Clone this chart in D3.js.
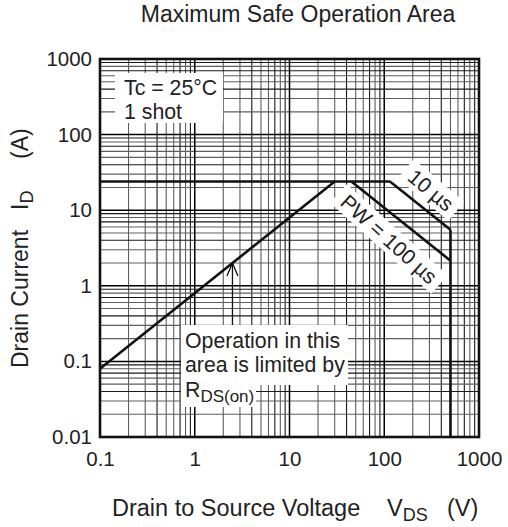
<!DOCTYPE html>
<html><head><meta charset="utf-8">
<script src="https://cdn.jsdelivr.net/npm/d3@7"></script>
<style>body{margin:0;background:#fff} svg{display:block;font-family:"Liberation Sans",Arial,Helvetica,sans-serif}</style>
</head><body><svg id="c" width="508" height="527"></svg>
<script>
const xTickValues=[0.1,1,10,100,1000];
const xTickLabels=["0.1","1","10","100","1000"];
const yTickValues=[0.01,0.1,1,10,100,1000];
const yTickLabels=["0.01","0.1","1","10","100","1000"];
const rdsV=[0.1,30], rdsI=[0.08,24];
const limitV=[0.1,115], limitI=[24,24];
const pw100V=[45,500], pw100I=[24,2.15];
const pw10V=[115,500], pw10I=[24,5.5];
const vdssV=[500,500], vdssI=[5.5,0.01];
const arrowV=2.5;

const svg=d3.select("#c");
const L=100,R=479,T=59,B=437;
const x=d3.scaleLog().domain([0.1,1000]).range([L,R]);
const y=d3.scaleLog().domain([0.01,1000]).range([B,T]);

// grid
const minorX=[],minorY=[];
for(let d=0.1;d<1000;d*=10){for(let k=2;k<=9;k++)minorX.push(+(k*d).toPrecision(3));}
for(let d=0.01;d<1000;d*=10){for(let k=2;k<=9;k++)minorY.push(+(k*d).toPrecision(3));}
const g=svg.append("g");
const shade=k=>([4,7,9].includes(Math.round(k))?"#1a1a1a":"#5e5e5e");
const mult=v=>v/Math.pow(10,Math.floor(Math.log10(v)+1e-9));
g.selectAll(".vx").data(minorX).join("line").attr("x1",d=>x(d)).attr("x2",d=>x(d)).attr("y1",T).attr("y2",B)
 .attr("stroke",d=>shade(mult(d))).attr("stroke-width",1.1);
g.selectAll(".hy").data(minorY).join("line").attr("y1",d=>y(d)).attr("y2",d=>y(d)).attr("x1",L).attr("x2",R)
 .attr("stroke",d=>shade(mult(d))).attr("stroke-width",1.1);
g.selectAll(".VX").data(xTickValues).join("line").attr("x1",d=>x(d)).attr("x2",d=>x(d)).attr("y1",T).attr("y2",B)
 .attr("stroke","#000").attr("stroke-width",1.5);
g.selectAll(".HY").data(yTickValues).join("line").attr("y1",d=>y(d)).attr("y2",d=>y(d)).attr("x1",L).attr("x2",R)
 .attr("stroke","#000").attr("stroke-width",1.5);

// white boxes
const wb=svg.append("g").attr("fill","#fff");
wb.append("rect").attr("x",115).attr("y",73).attr("width",108).attr("height",50);
wb.append("rect").attr("x",181).attr("y",325).attr("width",167).attr("height",60);
wb.append("rect").attr("x",181).attr("y",385).attr("width",75).attr("height",22);

// curves
const line=d3.line().x(d=>x(d[0])).y(d=>y(d[1]));
const curves=[[rdsV,rdsI],[limitV,limitI],[pw100V,pw100I],[pw10V,pw10I],[vdssV,vdssI]];
svg.append("g").selectAll("path").data(curves).join("path")
 .attr("d",c=>line(c[0].map((v,i)=>[v,c[1][i]])))
 .attr("fill","none").attr("stroke","#111").attr("stroke-width",2.6).attr("stroke-linejoin","miter");

// rotated labels
function rlabel(cx,cy,ang,txt,w,h){
  const gg=svg.append("g").attr("transform",`translate(${cx},${cy}) rotate(${ang})`);
  gg.append("rect").attr("x",-w/2).attr("y",-h/2).attr("width",w).attr("height",h).attr("fill","#fff");
  gg.append("text").attr("text-anchor","middle").attr("dy","0.36em").attr("font-size",21).attr("fill","#222").text(txt);
}
rlabel(431,190,40,"10 µs",66,25);
rlabel(389,239,42,"PW = 100 µs",136,25);

// arrow
const ax=x(arrowV), ay=y(arrowV*rdsI[1]/rdsV[1]);
svg.append("line").attr("x1",ax).attr("x2",ax).attr("y1",ay).attr("y2",325).attr("stroke","#111").attr("stroke-width",1.3);
svg.append("path").attr("d",`M${ax-5.5},${ay+13}L${ax},${ay}L${ax+5.5},${ay+13}`).attr("fill","none").attr("stroke","#111").attr("stroke-width",1.3);

// annotations text
const ann=svg.append("g").attr("font-size",21.3).attr("fill","#222");
ann.append("text").attr("x",124).attr("y",95).text("Tc = 25°C");
ann.append("text").attr("x",124).attr("y",119).text("1 shot");
ann.append("text").attr("x",185).attr("y",348).text("Operation in this");
ann.append("text").attr("x",185).attr("y",372).text("area is limited by");
const t3=ann.append("text").attr("x",185).attr("y",397);
t3.append("tspan").text("R");
t3.append("tspan").attr("font-size",17).attr("dy",5).text("DS(on)");

// frame
svg.append("rect").attr("x",L).attr("y",T).attr("width",R-L).attr("height",B-T).attr("fill","none").attr("stroke","#111").attr("stroke-width",2.6);

// axes
const xa=svg.append("g").attr("transform",`translate(0,${B})`)
 .call(d3.axisBottom(x).tickValues(xTickValues).tickSize(0).tickPadding(14).tickFormat((d,i)=>xTickLabels[i]));
const ya=svg.append("g").attr("transform",`translate(${L},0)`)
 .call(d3.axisLeft(y).tickValues(yTickValues).tickSize(0).tickPadding(8).tickFormat((d,i)=>yTickLabels[i]));
[xa,ya].forEach(a=>{a.select(".domain").remove();a.selectAll("text").attr("font-size",20.5).attr("fill","#222").attr("font-family","Liberation Sans, Arial, sans-serif");});

// titles
svg.append("text").attr("x",298).attr("y",22).attr("text-anchor","middle").attr("font-size",23).attr("fill","#222").text("Maximum Safe Operation Area");
const xt=svg.append("text").attr("x",112).attr("y",516).attr("font-size",23.5).attr("fill","#222");
xt.append("tspan").text("Drain to Source Voltage");
xt.append("tspan").attr("x",387).text("V");
xt.append("tspan").attr("font-size",18).attr("dy",5).text("DS");
xt.append("tspan").attr("x",447).attr("dy",-5).text("(V)");
const yt=svg.append("text").attr("transform","translate(28,368) rotate(-90)").attr("font-size",23).attr("fill","#222");
yt.append("tspan").attr("x",0).text("Drain Current");
yt.append("tspan").attr("x",158).text("I");
yt.append("tspan").attr("font-size",18).attr("dy",5).text("D");
yt.append("tspan").attr("x",209).attr("dy",-5).text("(A)");
</script></body></html>
